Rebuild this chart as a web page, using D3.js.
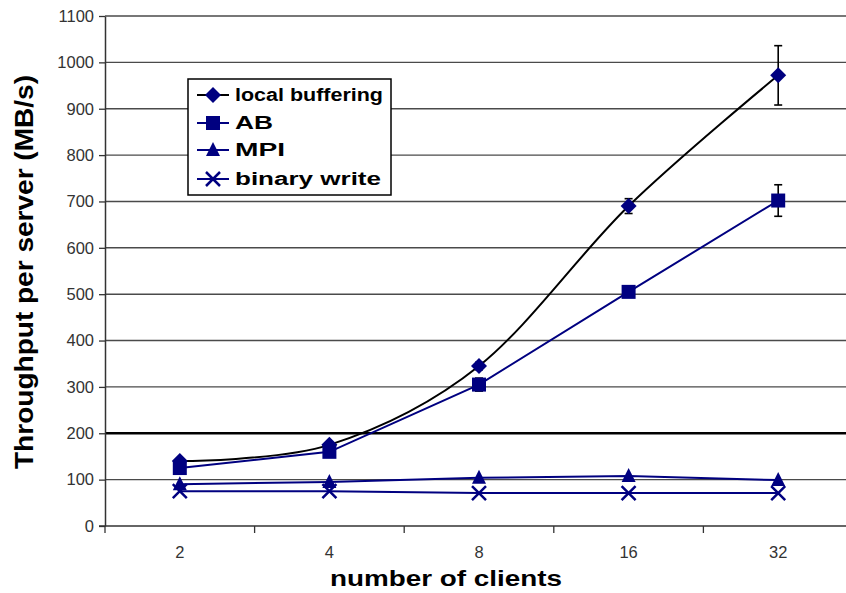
<!DOCTYPE html>
<html><head><meta charset="utf-8">
<script src="https://cdn.jsdelivr.net/npm/d3@7"></script>
<style>body{margin:0;background:#fff}svg{display:block}text{font-family:Arial,"Liberation Sans",sans-serif}</style>
</head><body><svg id="c" width="846" height="593"></svg>
<script>
const categories = ["2","4","8","16","32"];
const yTicks = [0,100,200,300,400,500,600,700,800,900,1000,1100];
const seriesNames = ["local buffering","AB","MPI","binary write"];
const localBuffering = [140,175,345,690,972];
const ab = [125,160,305,505,702];
const mpi = [90,95,104,108,99];
const binaryWrite = [75,75,71,71,71];
const localErr = [5,5,8,16,64];
const abErr = [5,5,14,8,34];

const W=846,H=593, L=105, R=853, T=16, B=526;
const svg=d3.select("#c");
const x=d3.scaleBand().domain(categories).range([L,R]).paddingInner(0).paddingOuter(0);
const cx=c=>x(c)+x.bandwidth()/2;
const y=d3.scaleLinear().domain([0,1100]).range([B,T]);
const navy="#000080";

// gridlines
svg.append("g").selectAll("line").data(yTicks.filter(v=>v>0)).join("line")
 .attr("x1",L).attr("x2",W).attr("y1",d=>y(d)).attr("y2",d=>y(d))
 .attr("stroke",d=>d===200?"#000":"#4a4a4a").attr("stroke-width",d=>d===200?2.5:1.4);

// y axis
const ya=svg.append("g").attr("transform",`translate(${L},0)`).call(d3.axisLeft(y).tickValues(yTicks).tickFormat(d3.format("d")).tickSize(6).tickSizeOuter(0));
ya.select(".domain").attr("stroke","#333").attr("stroke-width",1.5);
ya.selectAll(".tick line").attr("stroke","#333").attr("stroke-width",1.3);
ya.selectAll(".tick text").attr("font-size",16.5).attr("fill","#333").attr("x",-11).attr("font-family","Arial, Liberation Sans, sans-serif");

// x axis
const xa=svg.append("g").attr("transform",`translate(0,${B})`).call(d3.axisBottom(x).tickSize(0).tickSizeOuter(0));
xa.select(".domain").remove();
svg.append("line").attr("x1",L-6).attr("x2",W).attr("y1",B).attr("y2",B).attr("stroke","#333").attr("stroke-width",1.5);
xa.selectAll(".tick text").attr("font-size",16.5).attr("fill","#333").attr("y",20).attr("font-family","Arial, Liberation Sans, sans-serif");
const bounds=categories.map(c=>x(c));
svg.append("g").selectAll("line").data(bounds).join("line")
 .attr("x1",d=>d).attr("x2",d=>d).attr("y1",B).attr("y2",B+7).attr("stroke","#333").attr("stroke-width",1.3);

// titles
svg.append("text").attr("x",446).attr("y",586).attr("text-anchor","middle").attr("font-weight","bold")
 .attr("font-size",22).attr("textLength",232).attr("lengthAdjust","spacingAndGlyphs").text("number of clients");
svg.append("text").attr("transform","translate(33,272) rotate(-90)").attr("text-anchor","middle").attr("font-weight","bold")
 .attr("font-size",25).attr("textLength",394).attr("lengthAdjust","spacingAndGlyphs").text("Throughput per server (MB/s)");

const data=[localBuffering,ab,mpi,binaryWrite];
const lineColors=["#000",navy,navy,navy];
const straight=d3.line().x((d,i)=>cx(categories[i])).y(d=>y(d));
const smooth=d3.line().x((d,i)=>cx(categories[i])).y(d=>y(d)).curve(d3.curveCatmullRom.alpha(0));

// error bars
function errBars(vals,errs){
 const g=svg.append("g").attr("stroke","#000").attr("stroke-width",1.6);
 vals.forEach((v,i)=>{
  const px=cx(categories[i]);
  g.append("line").attr("x1",px).attr("x2",px).attr("y1",y(v+errs[i])).attr("y2",y(v-errs[i]));
  g.append("line").attr("x1",px-4).attr("x2",px+4).attr("y1",y(v+errs[i])).attr("y2",y(v+errs[i]));
  g.append("line").attr("x1",px-4).attr("x2",px+4).attr("y1",y(v-errs[i])).attr("y2",y(v-errs[i]));
 });
}
errBars(localBuffering,localErr);
errBars(ab,abErr);

// lines
data.forEach((s,k)=>{
 svg.append("path").attr("d",(k===0?smooth:straight)(s)).attr("fill","none")
  .attr("stroke",lineColors[k]).attr("stroke-width",2);
});

// markers
function marker(g,k,px,py){
 if(k===0) g.append("path").attr("d",`M${px},${py-8}L${px+8},${py}L${px},${py+8}L${px-8},${py}Z`).attr("fill",navy);
 else if(k===1) g.append("rect").attr("x",px-7).attr("y",py-7).attr("width",14).attr("height",14).attr("fill",navy);
 else if(k===2) g.append("path").attr("d",`M${px},${py-8}L${px+7},${py+6}L${px-7},${py+6}Z`).attr("fill",navy);
 else g.append("path").attr("d",`M${px-7},${py-7}L${px+7},${py+7}M${px+7},${py-7}L${px-7},${py+7}`).attr("stroke",navy).attr("stroke-width",2.5).attr("fill","none");
}
data.forEach((s,k)=>{
 const g=svg.append("g");
 s.forEach((v,i)=>marker(g,k,cx(categories[i]),y(v)));
});

// legend
const lg=svg.append("g");
lg.append("rect").attr("x",188).attr("y",79).attr("width",203).attr("height",116).attr("fill","#fff").attr("stroke","#000").attr("stroke-width",1.5);
const rowY=[95,123,150,179];
const textLens=[148,38,50,146];
seriesNames.forEach((n,k)=>{
 lg.append("line").attr("x1",197).attr("x2",229).attr("y1",rowY[k]).attr("y2",rowY[k]).attr("stroke",lineColors[k]).attr("stroke-width",2);
 marker(lg,k,213,rowY[k]);
 lg.append("text").attr("x",235).attr("y",rowY[k]+6).attr("font-size",17.5).attr("font-weight","bold")
  .attr("textLength",textLens[k]).attr("lengthAdjust","spacingAndGlyphs").text(n);
});
</script></body></html>
